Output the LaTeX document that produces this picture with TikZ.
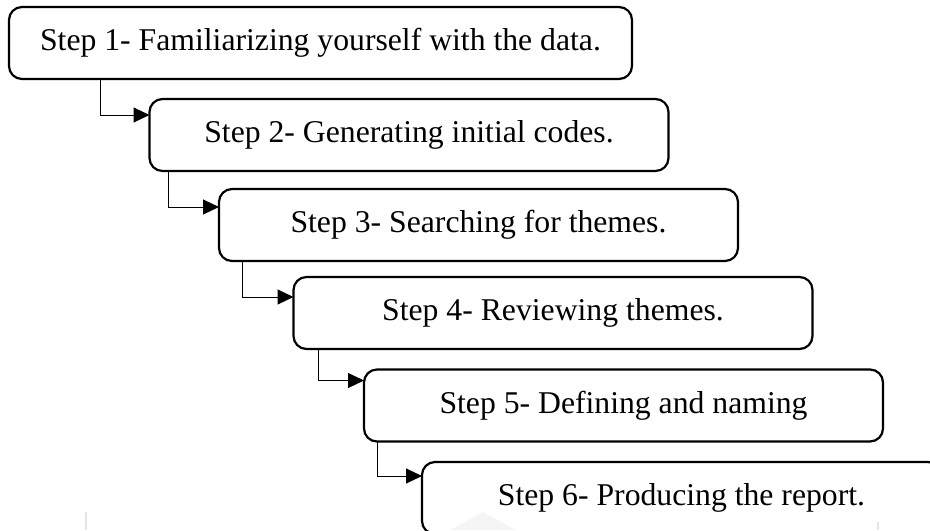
\documentclass[tikz,border=0pt]{standalone}
\usepackage{fontspec}
\setmainfont{Liberation Serif}
\usetikzlibrary{arrows.meta}

\tikzset{
	stepbox/.style={draw, line width=1.1pt, rounded corners=6.5pt, minimum width=259.5pt, minimum height=36pt, inner sep=0pt, outer sep=0pt, font=\fontsize{15.85pt}{19pt}\selectfont},
	flow/.style={line width=0.5pt, -{Triangle[length=8pt,width=7.5pt]}}
}

\begin{document}
\begin{tikzpicture}[x=0.5pt, y=-0.5pt]
				\useasboundingbox (0,0) rectangle (930,530);
				\clip (0,0) rectangle (930,530);
				
				% faint marks at the bottom
				\fill[gray!8] (483,512) -- (516,530) -- (450,530) -- cycle;
				\draw[gray!20, line width=0.8pt] (86,512) -- (86,530);
				\draw[gray!20, line width=0.8pt] (878,522) -- (878,530);
				
				% Steps
				\node[stepbox, minimum width=311.5pt] (s1) at (320.5,43) {Step 1- Familiarizing yourself with the data.};
				\node[stepbox] (s2) at (409,135) {Step 2- Generating initial codes.};
				\node[stepbox] (s3) at (478.5,225) {Step 3- Searching for themes.};
				\node[stepbox] (s4) at (553,313) {Step 4- Reviewing themes.};
				\node[stepbox] (s5) at (623.5,405.5) {Step 5- Defining and naming};
				\node[stepbox] (s6) at (681.5,498) {Step 6- Producing the report.};
				
				% Elbow arrows
				\draw[flow] ([xshift=45.5pt]s1.south west) |- ([yshift=-8pt]s2.north west); % 1 to 2
				\draw[flow] ([xshift=9.5pt]s2.south west) |- ([yshift=-9pt]s3.north west); % 2 to 3
				\draw[flow] ([xshift=11.5pt]s3.south west) |- ([yshift=-10pt]s4.north west); % 3 to 4
				\draw[flow] ([xshift=12.5pt]s4.south west) |- ([yshift=-5.5pt]s5.north west); % 4 to 5
				\draw[flow] ([xshift=6.5pt]s5.south west) |- ([yshift=-7pt]s6.north west); % 5 to 6
			\end{tikzpicture}
\end{document}
